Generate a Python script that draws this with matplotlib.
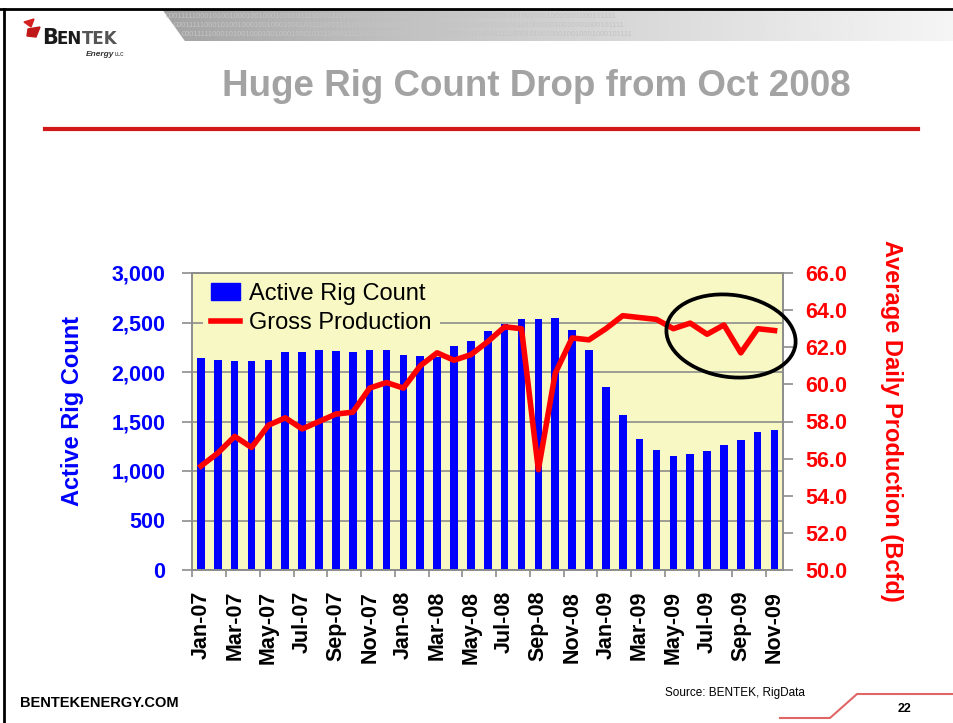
import numpy as np
import matplotlib
matplotlib.use('Agg')
import matplotlib.pyplot as plt
from matplotlib.patches import Ellipse, Patch, Polygon
from matplotlib.lines import Line2D
from matplotlib.ticker import FuncFormatter

plt.rcParams['font.family'] = ['Liberation Sans', 'DejaVu Sans']
plt.rcParams['font.weight'] = 'bold'

# Data
months = ['Jan-07', 'Feb-07', 'Mar-07', 'Apr-07', 'May-07', 'Jun-07', 'Jul-07',
          'Aug-07', 'Sep-07', 'Oct-07', 'Nov-07', 'Dec-07',
          'Jan-08', 'Feb-08', 'Mar-08', 'Apr-08', 'May-08', 'Jun-08', 'Jul-08',
          'Aug-08', 'Sep-08', 'Oct-08', 'Nov-08', 'Dec-08',
          'Jan-09', 'Feb-09', 'Mar-09', 'Apr-09', 'May-09', 'Jun-09', 'Jul-09',
          'Aug-09', 'Sep-09', 'Oct-09', 'Nov-09']
rig_count = [2139, 2118, 2108, 2108, 2118, 2199, 2199, 2220, 2209, 2199, 2220, 2220,
             2169, 2159, 2155, 2260, 2311, 2412, 2483, 2534, 2534, 2544, 2422, 2220,
             1845, 1561, 1328, 1216, 1155, 1176, 1206, 1267, 1318, 1389, 1419]
production = [55.6, 56.3, 57.2, 56.6, 57.8, 58.2, 57.6, 58.0, 58.4, 58.5, 59.8, 60.1,
              59.8, 61.0, 61.7, 61.3, 61.6, 62.3, 63.1, 63.0, 55.4, 60.6, 62.5, 62.4,
              63.0, 63.7, 63.6, 63.5, 63.0, 63.3, 62.7, 63.2, 61.7, 63.0, 62.9]
rig_ticks = [0, 500, 1000, 1500, 2000, 2500, 3000]
prod_ticks = [50, 52, 54, 56, 58, 60, 62, 64, 66]

W, H = 954, 723
BLUE = '#0000FF'
RED = '#FF0000'
GRID = '#8C8C8C'


def fx(px):
    return px / W


def fy(py):
    return 1 - py / H


fig = plt.figure(figsize=(W / 100, H / 100), dpi=100)

# ---- slide decoration ----
hax = fig.add_axes([fx(150), fy(41), fx(W - 150), 31 / H])
grad = np.linspace(0, 1, 400)
shade = 0.62 + 0.34 * grad ** 0.8
hax.imshow(np.tile(shade, (20, 1)), cmap='gray', vmin=0, vmax=1, aspect='auto',
           extent=[0, 1, 0, 1])
for i, yy in enumerate([0.8, 0.5, 0.2]):
    hax.text(0.02 + 0.01 * i, yy, ('0001111100010100100010010001000101111' * 3),
             fontsize=5.5, color='#c4c4c4', weight='normal', va='center',
             transform=hax.transAxes, clip_on=True)
hax.add_patch(Polygon([[0, 1], [0.0, -0.1], [0.045, -0.1], [0.012, 1.1]],
                      closed=True, color='white', transform=hax.transAxes))
hax.set_xlim(0, 1); hax.set_ylim(0, 1)
hax.axis('off')

fig.add_artist(Line2D([0, 1], [fy(9), fy(9)], color='black', lw=2))
fig.add_artist(Line2D([fx(4), fx(4)], [0, fy(9)], color='black', lw=2))

# logo
fig.add_artist(Polygon([[fx(24), fy(22)], [fx(34), fy(19)], [fx(31), fy(27)]],
                       closed=True, color='#d42020'))
fig.add_artist(Polygon([[fx(28), fy(29)], [fx(40), fy(27)], [fx(36), fy(37)], [fx(27), fy(36)]],
                       closed=True, color='#c01818'))
fig.text(fx(42), fy(44), 'B', fontsize=15, color='#1a1a1a', family='DejaVu Sans')
fig.text(fx(57), fy(44), 'EN', fontsize=12, color='#1a1a1a', family='DejaVu Sans')
fig.text(fx(81.5), fy(44), 'TEK', fontsize=12, color='#555555', family='DejaVu Sans')
fig.text(fx(86), fy(56), 'Energy', fontsize=6, style='italic', color='#333333')
fig.text(fx(115), fy(56), 'LLC', fontsize=3.5, color='#555555')

fig.text(fx(536), fy(86), 'Huge Rig Count Drop from Oct 2008', fontsize=26.5,
         color='#A3A3A3', ha='center', va='center')
fig.add_artist(Line2D([fx(45), fx(918)], [fy(128.5), fy(128.5)], color='#D01818', lw=3))

fig.text(fx(20), fy(703), 'BENTEKENERGY.COM', fontsize=10.5, va='center')
fig.text(fx(665), fy(693), 'Source: BENTEK, RigData', fontsize=8.5, weight='normal',
         va='center')
fig.text(fx(905), fy(709), '22', fontsize=9, ha='center', va='center')
fig.add_artist(Line2D([fx(780), fx(830), fx(857), 1], [fy(718), fy(718), fy(694), fy(694)],
                      color='#E06666', lw=1.5))

# ---- chart ----
ax = fig.add_axes([fx(192.5), fy(570), fx(783 - 192.5), (570 - 273) / H])
ax.set_facecolor('#F8F8C4')
x = np.arange(len(months))

ax.bar(x, rig_count, width=0.45, color=BLUE, zorder=2)
ax.set_xlim(-0.5, len(months) - 0.5)
ax.set_ylim(0, 3000)
ax.set_yticks(rig_ticks)
ax.yaxis.set_major_formatter(FuncFormatter(lambda v, p: f'{int(v):,}'))
ax.yaxis.grid(True, color=GRID, lw=1.2)
ax.set_axisbelow(True)
ax.tick_params(axis='y', length=7, width=1.2, color=GRID, labelcolor=BLUE,
               labelsize=15.5, pad=12.5)

ax.set_xticks(x[::2])
ax.set_xticklabels(months[::2], rotation=90, fontsize=15.5)
ax.tick_params(axis='x', which='major', length=0, pad=15)
ax.set_xticks(np.arange(-0.5, len(months), 2), minor=True)
ax.tick_params(axis='x', which='minor', length=5, width=1.2, color=GRID)

ax2 = ax.twinx()
ax2.plot(x, production, color=RED, lw=4, zorder=3)
ax2.set_ylim(50, 66)
ax2.set_yticks(prod_ticks)
ax2.yaxis.set_major_formatter(FuncFormatter(lambda v, p: f'{v:.1f}'))
ax2.tick_params(axis='y', length=7, width=1.2, color=GRID, labelcolor=RED,
                labelsize=15.5, pad=9)

for a in (ax, ax2):
    for s in a.spines.values():
        s.set_color(GRID)
        s.set_linewidth(1.2)

handles = [Patch(color=BLUE), Line2D([0], [0], color=RED, lw=4)]
leg = ax2.legend(handles, ['Active Rig Count', 'Gross Production'], loc='upper left',
                 bbox_to_anchor=(0.018, 0.995), borderaxespad=0, borderpad=0.35,
                 handlelength=1.2, handletextpad=0.4, labelspacing=0.32,
                 prop={'size': 17, 'weight': 'normal'}, frameon=True,
                 fancybox=False, facecolor='#F8F8C4', edgecolor='none', framealpha=1)

fig.text(fx(72.5), fy(411), 'Active Rig Count', rotation=90, color=BLUE, fontsize=17,
         ha='center', va='center')
fig.text(fx(892), fy(421), 'Average Daily Production (Bcfd)', rotation=-90, color=RED,
         fontsize=17, ha='center', va='center')

fig.add_artist(Ellipse((7.31, (H - 336) / 100), 1.30, 0.82, angle=-8,
                       transform=fig.dpi_scale_trans, fill=False, ec='black', lw=2.7))

fig.savefig('out.png', dpi=100)
